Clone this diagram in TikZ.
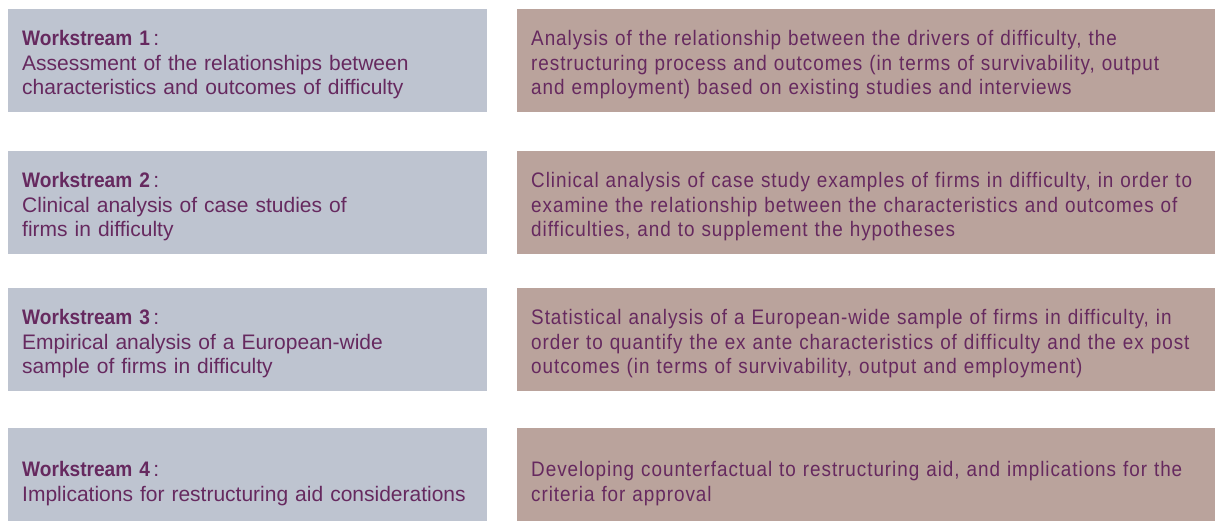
\documentclass[tikz,border=0pt]{standalone}
\usepackage{fontspec}
\setmainfont{Liberation Sans}
\newfontfamily\wsfam[FakeStretch=0.91]{Liberation Sans}
\newfontfamily\narrowfont[FakeStretch=0.9,LetterSpace=4.5]{Liberation Sans}
\definecolor{lbox}{HTML}{BEC4D0}
\definecolor{rbox}{HTML}{BAA39C}
\definecolor{ink}{HTML}{66295F}
\newcommand{\wshead}[1]{{\wsfam\bfseries Workstream #1}\,:}
\tikzset{
  boxbase/.style={anchor=north west, inner sep=0pt, minimum height=103pt},
  lbx/.style={boxbase, fill=lbox, minimum width=479pt},
  rbx/.style={boxbase, fill=rbox, minimum width=698pt},
  txtbase/.style={anchor=west, inner sep=0pt, align=left, text=ink, xshift=14pt, yshift=-4pt},
  ltx/.style={txtbase, text width=455pt, font=\fontsize{21}{24.5}\selectfont},
  rtx/.style={txtbase, text width=690pt, font=\narrowfont\fontsize{21}{24.5}\selectfont},
}
\begin{document}
\begin{tikzpicture}[x=1pt,y=-1pt]
\useasboundingbox[clip] (0,0) rectangle (1218,521);
\fill[white] (0,0) rectangle (1218,521);
\node[lbx] (w1) at (8,9) {};
\node[rbx] (d1) at (517,9) {};
\node[lbx] (w2) at (8,151) {};
\node[rbx] (d2) at (517,151) {};
\node[lbx] (w3) at (8,288) {};
\node[rbx] (d3) at (517,288) {};
\node[lbx] (w4) at (8,428) {};
\node[rbx] (d4) at (517,428) {};
\node[ltx] (t1) at (w1.west) {\wshead{1}\\Assessment of the relationships between\\characteristics and outcomes of difficulty};
\node[rtx] (e1) at (d1.west) {Analysis of the relationship between the drivers of difficulty, the\\restructuring process and outcomes (in terms of survivability, output\\and employment) based on existing studies and interviews};
\node[ltx] (t2) at (w2.west) {\wshead{2}\\Clinical analysis of case studies of\\firms in difficulty};
\node[rtx] (e2) at (d2.west) {Clinical analysis of case study examples of firms in difficulty, in order to\\examine the relationship between the characteristics and outcomes of\\difficulties, and to supplement the hypotheses};
\node[ltx] (t3) at (w3.west) {\wshead{3}\\Empirical analysis of a European-wide\\sample of firms in difficulty};
\node[rtx] (e3) at (d3.west) {Statistical analysis of a European-wide sample of firms in difficulty, in\\order to quantify the ex ante characteristics of difficulty and the ex post\\outcomes (in terms of survivability, output and employment)};
\node[ltx] (t4) at (w4.west) {\wshead{4}\\Implications for restructuring aid considerations};
\node[rtx] (e4) at (d4.west) {Developing counterfactual to restructuring aid, and implications for the\\criteria for approval};
\end{tikzpicture}
\end{document}
